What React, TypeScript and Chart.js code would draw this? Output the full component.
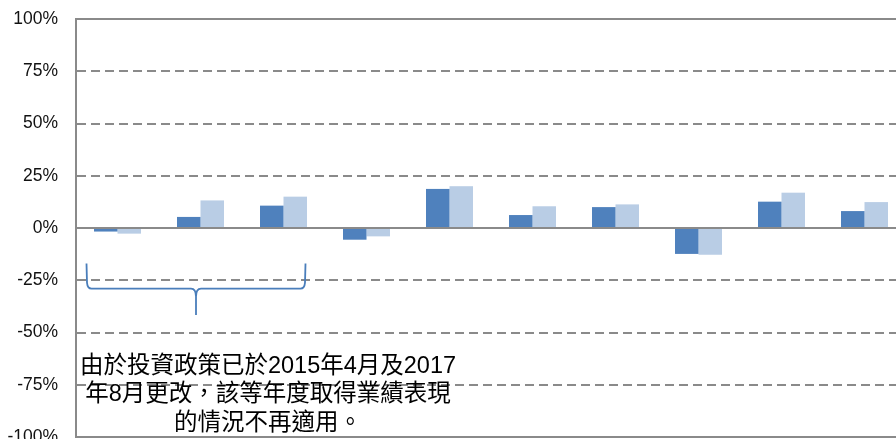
import React, { useEffect, useRef } from "react";
import { Chart, registerables } from "chart.js";

Chart.register(...registerables);

const categories = ["2012", "2013", "2014", "2015", "2016", "2017", "2018", "2019", "2020", "2021"];
const seriesA = [-1.7, 5.3, 10.7, -5.6, 18.7, 6.2, 10.0, -12.4, 12.6, 8.1];
const seriesB = [-2.7, 13.2, 15.0, -4.0, 20.0, 10.4, 11.3, -12.8, 16.9, 12.4];
const yTicks = [-100, -75, -50, -25, 0, 25, 50, 75, 100];
const noteLines = ["由於投資政策已於2015年4月及2017", "年8月更改，該等年度取得業績表現", "的情況不再適用。"];

const annotationPlugin = {
  id: "braceNote",
  afterDraw(chart: any) {
    const { ctx } = chart;
    const xs = chart.scales.x;
    const ys = chart.scales.y;
    const x0 = xs.getPixelForValue(0) - 31;
    const x2 = xs.getPixelForValue(2) + 22;
    const xm = (x0 + x2) / 2;
    const yTop = ys.getPixelForValue(-17);
    const yH = ys.getPixelForValue(-29);
    const yTip = ys.getPixelForValue(-41.6);
    ctx.save();
    ctx.strokeStyle = "#4a7ebb";
    ctx.lineWidth = 1.8;
    ctx.lineJoin = "round";
    ctx.beginPath();
    ctx.moveTo(x0, yTop);
    ctx.lineTo(x0 + 0.5, yH - 6);
    ctx.quadraticCurveTo(x0 + 1, yH, x0 + 5, yH);
    ctx.lineTo(xm - 5, yH);
    ctx.quadraticCurveTo(xm, yH, xm, yH + 8);
    ctx.lineTo(xm, yTip);
    ctx.moveTo(xm, yH + 8);
    ctx.quadraticCurveTo(xm, yH, xm + 5, yH);
    ctx.lineTo(x2 - 5, yH);
    ctx.quadraticCurveTo(x2 - 1, yH, x2 - 0.5, yH - 6);
    ctx.lineTo(x2, yTop);
    ctx.stroke();

    ctx.fillStyle = "#000";
    ctx.font = "23.5px 'Liberation Sans', 'Noto Sans CJK TC'";
    ctx.textAlign = "center";
    ctx.textBaseline = "alphabetic";
    const cx = chart.chartArea.left + 192;
    const baselines = [372.5, 401, 429.5];
    noteLines.forEach((t, i) => ctx.fillText(t, cx, baselines[i]));
    ctx.restore();
  },
};

export default function App() {
  const ref = useRef<HTMLCanvasElement>(null);
  useEffect(() => {
    if (!ref.current) return;
    const solid = new Set([0, 100, -100]);
    const chart = new Chart(ref.current, {
      type: "bar",
      data: {
        labels: categories,
        datasets: [
          { label: "A", data: seriesA, backgroundColor: "#4f81bd", categoryPercentage: 0.566, barPercentage: 1 },
          { label: "B", data: seriesB, backgroundColor: "#b9cde5", categoryPercentage: 0.566, barPercentage: 1 },
        ],
      },
      options: {
        responsive: false,
        animation: false,
        devicePixelRatio: 1,
        layout: { padding: { top: 19, left: 0, right: 14, bottom: 23 } },
        plugins: { legend: { display: false }, tooltip: { enabled: false } },
        scales: {
          x: { display: false },
          y: {
            min: -100,
            max: 100,
            afterBuildTicks: (scale: any) => {
              scale.ticks = yTicks.map((v) => ({ value: v }));
            },
            afterFit: (scale: any) => {
              scale.width = 76;
              scale.paddingTop = 0;
              scale.paddingBottom = 0;
            },
            ticks: {
              padding: 18,
              color: "#111",
              font: { family: "'Liberation Sans', Arial, sans-serif", size: 17.5 },
              callback: (v: any) => v + "%",
            },
            grid: {
              color: "#8a8a8a",
              lineWidth: 2,
              drawTicks: false,
              z: 1,
            },
            border: {
              display: true,
              color: "#8a8a8a",
              width: 2,
              z: 2,
              dash: (c: any) => (c.tick && !solid.has(c.tick.value) ? [9, 5] : []),
            },
          },
        },
      },
      plugins: [annotationPlugin],
    });
    return () => chart.destroy();
  }, []);
  return (
    <div style={{ position: "fixed", left: 0, top: 0, width: 896, height: 439, overflow: "hidden", background: "#fff" }}>
      <canvas ref={ref} width={920} height={460} style={{ display: "block" }} />
    </div>
  );
}
